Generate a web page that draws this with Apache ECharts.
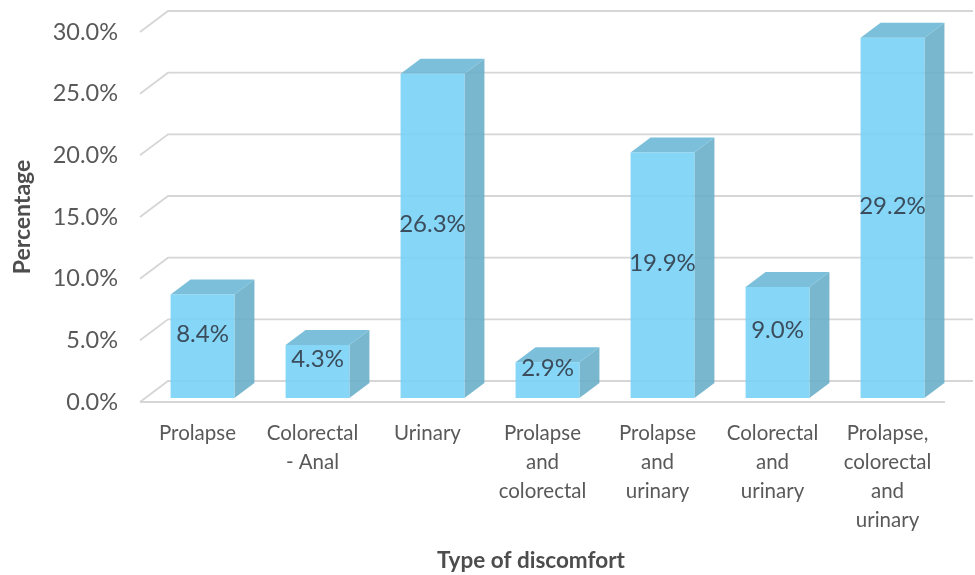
<!DOCTYPE html>
<html>
<head>
<meta charset="utf-8">
<script src="https://cdn.jsdelivr.net/npm/echarts@6/dist/echarts.min.js"></script>
<style>
  html, body { margin: 0; padding: 0; background: #fff; }
  #chart { width: 975px; height: 575px; }
</style>
</head>
<body>
<div id="chart"></div>
<script>
// categories and values
var categories = [
    'Prolapse',
    'Colorectal\n- Anal',
    'Urinary',
    'Prolapse\nand\ncolorectal',
    'Prolapse\nand\nurinary',
    'Colorectal\nand\nurinary',
    'Prolapse,\ncolorectal\nand\nurinary'
];
var percentages = [8.4, 4.3, 26.3, 2.9, 19.9, 9.0, 29.2];
var tickValues = [0, 5, 10, 15, 20, 25, 30];

var FONT = 'Lato, "Open Sans", sans-serif';
// depth of the floor / back wall, and of the bars
var wallDx = 28, wallDy = -21;
var barOffX = 5, barOffY = -4;
var barDx = 20, barDy = -15;

var myChart = echarts.init(document.getElementById('chart'));

// floor + back wall gridlines
function renderGrid(params, api) {
    var v = api.value(0);
    var cs = params.coordSys;
    var y = api.coord([0, v])[1];
    var left = cs.x, right = cs.x + cs.width;
    var children = [{
        type: 'polyline',
        shape: { points: [[left, y], [left + wallDx, y + wallDy], [right + wallDx, y + wallDy]] },
        style: { fill: 'none', stroke: '#d6d6d6', lineWidth: 1.8 }
    }];
    if (v === 0) {
        children.push({
            type: 'line',
            shape: { x1: left, y1: y, x2: right, y2: y },
            style: { stroke: '#d6d6d6', lineWidth: 1.8 }
        });
    }
    return { type: 'group', children: children };
}

function renderBar(params, api) {
    var idx = api.value(0);
    var val = api.value(1);
    var top = api.coord([idx, val]);
    var base = api.coord([idx, 0]);
    var band = api.size([1, 0])[0];
    var w = band * 0.555;
    var x0 = top[0] - w / 2 + barOffX;
    var x1 = x0 + w;
    var yT = top[1] + barOffY;
    var yB = base[1] + barOffY;
    var op = 0.9;
    return {
        type: 'group',
        children: [{
            type: 'polygon',
            shape: { points: [[x1, yT], [x1 + barDx, yT + barDy], [x1 + barDx, yB + barDy], [x1, yB]] },
            style: { fill: '#6aafc9', opacity: op }
        }, {
            type: 'polygon',
            shape: { points: [[x0, yT], [x0 + barDx, yT + barDy], [x1 + barDx, yT + barDy], [x1, yT]] },
            style: { fill: '#6db8d6', opacity: op }
        }, {
            type: 'rect',
            shape: { x: x0, y: yT, width: w, height: yB - yT },
            style: { fill: '#79d2f6', opacity: op }
        }, {
            type: 'text',
            style: {
                x: (x0 + x1) / 2,
                y: (yT + yB) / 2 - 12,
                text: val.toFixed(1) + '%',
                align: 'center',
                verticalAlign: 'middle',
                fill: '#3b4d5c',
                font: '24px ' + FONT
            }
        }]
    };
}

var option = {
    animation: false,
    grid: {
        left: 140,
        right: 30,
        top: 32,
        bottom: 173
    },
    xAxis: {
        type: 'category',
        data: categories,
        axisLine: { show: false },
        axisTick: { show: false },
        axisLabel: {
            interval: 0,
            margin: 17,
            color: '#595959',
            fontSize: 20.5,
            lineHeight: 29,
            fontFamily: FONT
        }
    },
    yAxis: {
        type: 'value',
        min: 0,
        max: 30,
        interval: 5,
        name: 'Percentage',
        nameLocation: 'middle',
        nameGap: 106,
        nameTextStyle: {
            color: '#4d4d4d',
            fontSize: 23,
            fontWeight: 'bold',
            fontFamily: FONT
        },
        axisLine: { show: false },
        axisTick: { show: false },
        splitLine: { show: false },
        axisLabel: {
            margin: 22,
            color: '#595959',
            fontSize: 23.5,
            fontFamily: FONT,
            formatter: function(v) {
                return v.toFixed(1) + '%';
            }
        }
    },
    graphic: [{
        type: 'text',
        left: 437,
        top: 549,
        style: {
            text: 'Type of discomfort',
            fill: '#4d4d4d',
            font: 'bold 22.5px ' + FONT
        }
    }],
    series: [{
        type: 'custom',
        renderItem: renderGrid,
        data: tickValues.map(function(v) { return [v]; }),
        encode: { y: 0 },
        silent: true,
        z: 1
    }, {
        type: 'custom',
        renderItem: renderBar,
        data: percentages.map(function(v, i) { return [i, v]; }),
        encode: { x: 0, y: 1 },
        z: 2
    }]
};
myChart.setOption(option);
</script>
</body>
</html>
